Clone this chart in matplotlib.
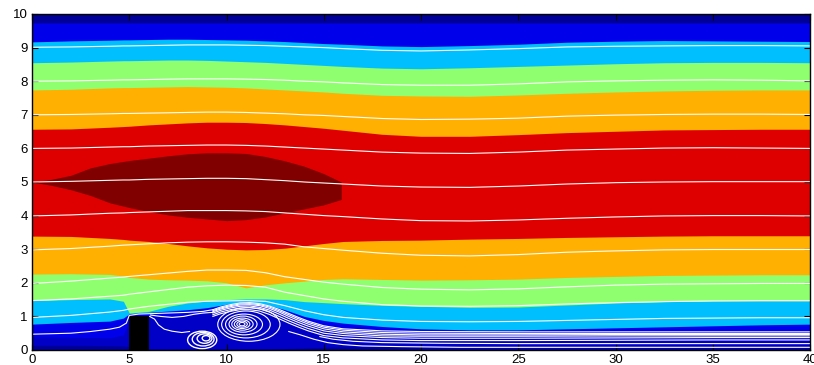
import matplotlib
matplotlib.use("Agg")
import matplotlib.pyplot as plt
from matplotlib.patches import Ellipse

plt.rcParams["font.family"] = ["Liberation Sans", "DejaVu Sans"]

# x stations (channel length units) where the band edges / streamlines were read
xs = [0, 2, 4, 4.7, 5, 6, 7, 8, 9, 10, 11, 12, 13, 14, 15, 16, 18, 20, 22.5, 25, 27.5, 30, 32.5, 35, 37.5, 40]

# contour band edges (lower and upper edge of each filled level)
top_band = 9.73
navy2_lo  = [0.14, 0.14, 0.13, 0.12, 0.1, 0.03, 0.03, 0.03, 0.03, 0.03, 0.03, 0.03, 0.04, 0.06, 0.08, 0.1, 0.1, 0.1, 0.1, 0.1, 0.1, 0.1, 0.1, 0.1, 0.1, 0.1]
blue_lo   = [0.4, 0.38, 0.36, 0.45, 0.9, 1.0, 0.98, 1.02, 1.1, 1.22, 1.28, 1.2, 1.02, 0.8, 0.66, 0.6, 0.55, 0.52, 0.5, 0.5, 0.5, 0.5, 0.5, 0.5, 0.5, 0.5]
sky_lo    = [0.77, 0.82, 0.86, 0.95, 1.08, 1.12, 1.16, 1.2, 1.26, 1.36, 1.42, 1.36, 1.2, 1.0, 0.88, 0.8, 0.7, 0.63, 0.6, 0.6, 0.63, 0.66, 0.69, 0.72, 0.75, 0.77]
green_lo  = [1.47, 1.5, 1.52, 1.45, 1.1, 1.15, 1.3, 1.4, 1.46, 1.5, 1.52, 1.52, 1.5, 1.44, 1.41, 1.38, 1.33, 1.3, 1.27, 1.28, 1.34, 1.4, 1.44, 1.46, 1.46, 1.46]
orange_lo = [2.26, 2.27, 2.25, 2.2, 2.16, 2.11, 2.09, 2.08, 2.06, 2.0, 1.85, 1.94, 2.0, 2.05, 2.1, 2.12, 2.1, 2.08, 2.09, 2.11, 2.16, 2.19, 2.22, 2.23, 2.24, 2.24]
red_lo    = [3.39, 3.38, 3.32, 3.29, 3.27, 3.23, 3.17, 3.1, 3.04, 3.0, 2.98, 2.99, 3.03, 3.1, 3.17, 3.23, 3.26, 3.27, 3.3, 3.32, 3.35, 3.37, 3.39, 3.4, 3.4, 3.4]
red_hi    = [6.57, 6.58, 6.63, 6.65, 6.66, 6.7, 6.73, 6.76, 6.78, 6.78, 6.77, 6.74, 6.7, 6.65, 6.6, 6.54, 6.42, 6.36, 6.36, 6.41, 6.47, 6.51, 6.55, 6.56, 6.57, 6.57]
orange_hi = [7.74, 7.76, 7.8, 7.81, 7.81, 7.82, 7.83, 7.84, 7.83, 7.82, 7.8, 7.77, 7.74, 7.71, 7.68, 7.64, 7.58, 7.56, 7.55, 7.59, 7.64, 7.68, 7.71, 7.73, 7.74, 7.74]
green_hi  = [8.55, 8.57, 8.6, 8.61, 8.61, 8.62, 8.63, 8.63, 8.62, 8.6, 8.58, 8.56, 8.53, 8.5, 8.47, 8.44, 8.39, 8.37, 8.4, 8.44, 8.48, 8.52, 8.55, 8.56, 8.56, 8.55]
sky_hi    = [9.17, 9.2, 9.22, 9.23, 9.23, 9.24, 9.25, 9.25, 9.24, 9.23, 9.22, 9.2, 9.18, 9.15, 9.12, 9.1, 9.05, 9.03, 9.06, 9.1, 9.16, 9.19, 9.21, 9.2, 9.19, 9.18]

# dark red core
core_x  = [0, 1, 2, 3, 4, 5, 6, 7, 8, 9, 10, 11, 12, 13, 14, 15, 15.9]
core_lo = [5.0, 4.9, 4.77, 4.6, 4.38, 4.24, 4.12, 4.02, 3.95, 3.9, 3.85, 3.88, 3.96, 4.08, 4.2, 4.32, 4.48]
core_hi = [5.0, 5.08, 5.2, 5.42, 5.55, 5.64, 5.71, 5.78, 5.84, 5.87, 5.87, 5.85, 5.76, 5.63, 5.47, 5.25, 5.0]

# streamlines through the free stream
s9  = [9.01, 9.02, 9.04, 9.05, 9.05, 9.06, 9.07, 9.08, 9.08, 9.08, 9.07, 9.06, 9.04, 9.02, 9.0, 8.97, 8.92, 8.9, 8.93, 8.97, 9.02, 9.04, 9.05, 9.06, 9.06, 9.05]
s8  = [8.0, 8.01, 8.03, 8.04, 8.04, 8.05, 8.06, 8.07, 8.07, 8.07, 8.06, 8.05, 8.03, 8.0, 7.98, 7.95, 7.9, 7.88, 7.88, 7.92, 7.98, 8.01, 8.03, 8.04, 8.03, 8.01]
s7  = [7.0, 7.01, 7.03, 7.04, 7.04, 7.05, 7.06, 7.07, 7.08, 7.08, 7.07, 7.05, 7.03, 7.0, 6.98, 6.95, 6.89, 6.86, 6.87, 6.9, 6.96, 6.99, 7.01, 7.02, 7.02, 7.01]
s6  = [6.0, 6.01, 6.04, 6.05, 6.05, 6.07, 6.08, 6.09, 6.1, 6.1, 6.09, 6.07, 6.04, 6.01, 5.98, 5.95, 5.89, 5.86, 5.85, 5.89, 5.95, 5.98, 6.01, 6.02, 6.01, 6.0]
s5  = [5.0, 5.02, 5.05, 5.06, 5.06, 5.08, 5.09, 5.1, 5.11, 5.11, 5.1, 5.07, 5.04, 5.0, 4.97, 4.94, 4.88, 4.85, 4.84, 4.88, 4.94, 4.98, 5.0, 5.01, 5.01, 5.01]
s4  = [3.99, 4.02, 4.07, 4.08, 4.09, 4.11, 4.13, 4.15, 4.15, 4.15, 4.14, 4.12, 4.08, 4.04, 4.0, 3.97, 3.9, 3.85, 3.84, 3.87, 3.92, 3.96, 3.99, 4.0, 4.0, 3.99]
s3  = [2.98, 3.02, 3.09, 3.12, 3.13, 3.16, 3.19, 3.21, 3.22, 3.22, 3.21, 3.19, 3.15, 3.07, 3.02, 2.97, 2.88, 2.82, 2.8, 2.84, 2.91, 2.95, 2.98, 2.99, 2.99, 2.99]
s2  = [1.98, 2.05, 2.14, 2.17, 2.19, 2.24, 2.29, 2.34, 2.38, 2.38, 2.37, 2.3, 2.18, 2.1, 2.02, 1.96, 1.86, 1.81, 1.79, 1.82, 1.88, 1.93, 1.96, 1.97, 1.98, 1.98]
s15 = [1.47, 1.52, 1.6, 1.63, 1.66, 1.73, 1.8, 1.87, 1.91, 1.93, 1.92, 1.87, 1.72, 1.62, 1.52, 1.45, 1.35, 1.31, 1.3, 1.32, 1.37, 1.41, 1.44, 1.46, 1.47, 1.47]
s1  = [0.97, 1.03, 1.13, 1.18, 1.22, 1.3, 1.36, 1.42, 1.45, 1.46, 1.47, 1.45, 1.32, 1.17, 1.05, 0.97, 0.89, 0.85, 0.84, 0.85, 0.88, 0.91, 0.94, 0.95, 0.96, 0.96]
free_lines = [s9, s8, s7, s6, s5, s4, s3, s2, s15, s1]

# lowest incoming streamline, lifted over the block
s05_x = [0, 2, 3, 4, 4.5, 4.85, 5.0, 5.5, 6, 7, 8, 8.8, 9.3]
s05_y = [0.47, 0.5, 0.55, 0.62, 0.68, 0.8, 1.03, 1.07, 1.08, 1.1, 1.12, 1.15, 1.2]

# shear layer bundle over the vortex, into the wake
bx  = [9.3, 9.7, 10.2, 10.7, 11.2, 11.7, 12.2, 12.7, 13.2, 13.7, 14.2, 15, 16, 18, 20, 25, 30, 35, 40]
b_a = [1.2, 1.28, 1.35, 1.4, 1.41, 1.38, 1.31, 1.21, 1.09, 0.97, 0.86, 0.72, 0.63, 0.57, 0.55, 0.54, 0.54, 0.54, 0.54]
b_b = [1.17, 1.25, 1.32, 1.37, 1.38, 1.35, 1.28, 1.17, 1.05, 0.93, 0.82, 0.68, 0.59, 0.52, 0.5, 0.49, 0.49, 0.49, 0.49]
b_c = [1.14, 1.22, 1.29, 1.34, 1.35, 1.32, 1.24, 1.13, 1.0, 0.88, 0.77, 0.63, 0.54, 0.47, 0.45, 0.45, 0.46, 0.46, 0.46]
b_d = [1.1, 1.18, 1.25, 1.3, 1.31, 1.27, 1.19, 1.07, 0.94, 0.82, 0.71, 0.57, 0.49, 0.42, 0.41, 0.41, 0.42, 0.42, 0.42]
b_e = [1.05, 1.13, 1.2, 1.25, 1.26, 1.22, 1.13, 1.0, 0.87, 0.75, 0.64, 0.5, 0.43, 0.37, 0.35, 0.35, 0.36, 0.37, 0.37]
b_f = [1.0, 1.08, 1.15, 1.2, 1.2, 1.16, 1.06, 0.93, 0.8, 0.68, 0.57, 0.43, 0.36, 0.3, 0.28, 0.28, 0.29, 0.3, 0.3]
bundle = [b_a, b_b, b_c, b_d, b_e, b_f]

# near-wall wake lines
w1_x = [13.2, 13.8, 14.5, 15.2, 16, 17, 19, 22, 26, 30, 35, 40]
w1_y = [0.55, 0.45, 0.32, 0.22, 0.16, 0.12, 0.1, 0.08, 0.08, 0.08, 0.08, 0.08]
w2_x = [14.8, 15.5, 16.5, 18, 21, 25, 30, 35, 40]
w2_y = [0.4, 0.32, 0.26, 0.22, 0.2, 0.19, 0.19, 0.19, 0.19]

# lines just behind the block
r1_x = [6.05, 6.3, 6.5, 6.8, 7.2, 7.7, 8.1]
r1_y = [1.0, 0.92, 0.75, 0.62, 0.56, 0.52, 0.55]
r2_x = [6.1, 6.6, 7.2, 7.8, 8.3, 8.8, 9.3]
r2_y = [1.04, 1.0, 0.97, 1.0, 1.06, 1.1, 1.12]

# recirculation loops (centre, half widths)
big_cx = [11.15, 11.0, 10.9, 10.85, 10.82, 10.8, 10.8, 10.8]
big_cy = [0.76, 0.76, 0.76, 0.77, 0.77, 0.77, 0.77, 0.77]
big_rx = [1.6, 1.25, 0.95, 0.72, 0.55, 0.4, 0.27, 0.15]
big_ry = [0.5, 0.4, 0.31, 0.24, 0.18, 0.13, 0.09, 0.05]
small_cx = [8.75, 8.8, 8.87, 8.95]
small_cy = [0.3, 0.32, 0.34, 0.35]
small_rx = [0.75, 0.56, 0.38, 0.2]
small_ry = [0.26, 0.2, 0.14, 0.08]

# block
block_x = [5, 6]
block_h = 1.0

navy1 = (0, 0, 0.6)
navy2 = (0, 0, 0.78)
blue = (0, 0, 0.92)
sky = (0, 0.75, 1)
green = (0.56, 1, 0.44)
orange = (1, 0.69, 0)
red = (0.87, 0, 0)
darkred = (0.5, 0, 0)

fig = plt.figure(figsize=(8.14, 3.65), dpi=100)
ax = fig.add_axes([32 / 814, 15 / 365, 778 / 814, 336 / 365])
ax.set_facecolor(navy1)

ax.fill_between(xs, navy2_lo, top_band, color=navy2, lw=0)
ax.fill_between(xs, blue_lo, top_band, color=blue, lw=0)
ax.fill_between(xs, sky_lo, sky_hi, color=sky, lw=0)
ax.fill_between(xs, green_lo, green_hi, color=green, lw=0)
ax.fill_between(xs, orange_lo, orange_hi, color=orange, lw=0)
ax.fill_between(xs, red_lo, red_hi, color=red, lw=0)
ax.fill_between(core_x, core_lo, core_hi, color=darkred, lw=0)

lw = 0.8
for s in free_lines:
    ax.plot(xs, s, color="white", lw=lw)
ax.plot(s05_x, s05_y, color="white", lw=lw)
for b in bundle:
    ax.plot(bx, b, color="white", lw=lw)
ax.plot(w1_x, w1_y, color="white", lw=lw)
ax.plot(w2_x, w2_y, color="white", lw=lw)
ax.plot(r1_x, r1_y, color="white", lw=lw)
ax.plot(r2_x, r2_y, color="white", lw=lw)

for cx, cy, rx, ry in zip(big_cx, big_cy, big_rx, big_ry):
    ax.add_patch(Ellipse((cx, cy), 2 * rx, 2 * ry, fill=False, ec="white", lw=lw))
for cx, cy, rx, ry in zip(small_cx, small_cy, small_rx, small_ry):
    ax.add_patch(Ellipse((cx, cy), 2 * rx, 2 * ry, fill=False, ec="white", lw=1.0))

ax.fill_between(block_x, 0, block_h, color="black", lw=0)

ax.set_xlim(0, 40)
ax.set_ylim(0, 10)
ax.set_xticks(range(0, 41, 5))
ax.set_yticks(range(0, 11))
ax.tick_params(direction="in", length=4, width=0.8, top=True, right=True,
               labelsize=9.5, pad=3)
for sp in ax.spines.values():
    sp.set_linewidth(1.0)

fig.savefig("out.png", dpi=100)
